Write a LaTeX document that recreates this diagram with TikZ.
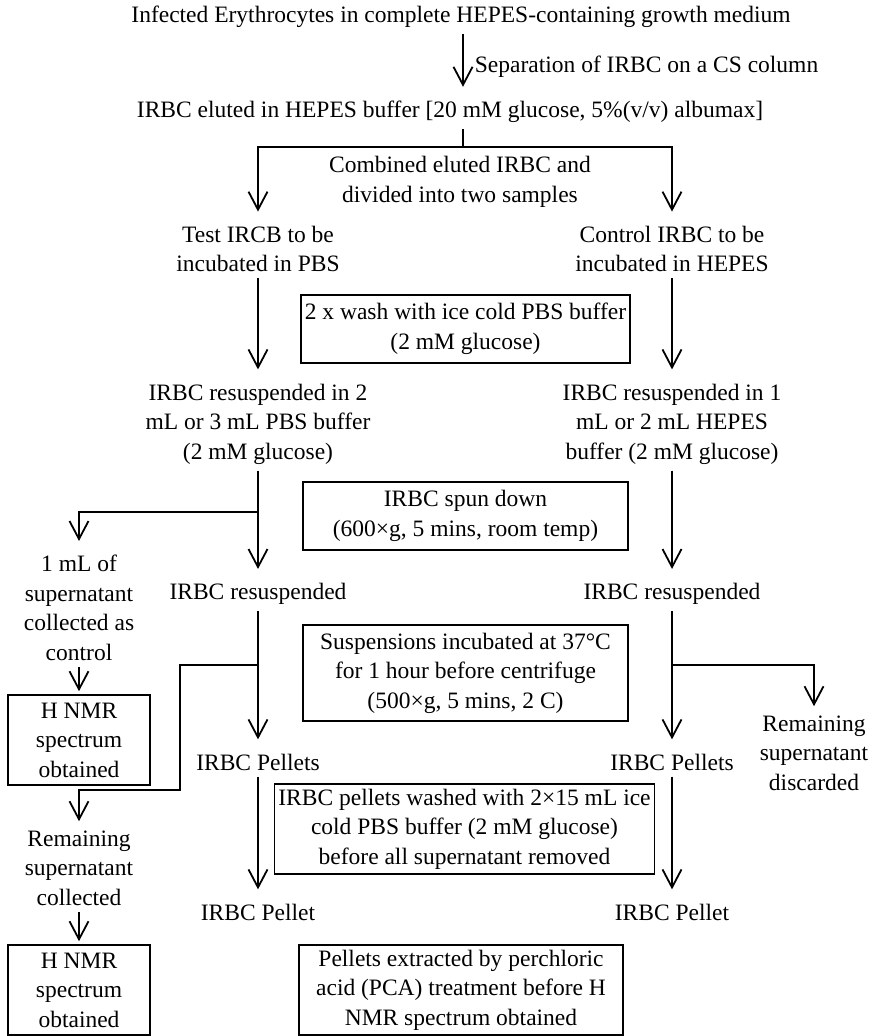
\documentclass[tikz,border=0pt]{standalone}
\usepackage{fontspec}
\setmainfont{Liberation Serif}
\usetikzlibrary{arrows.meta}

\tikzset{
  stage/.style={align=center, inner xsep=2pt, inner ysep=3pt},
  stepbox/.style={draw, line width=0.8pt, align=center, inner sep=2pt},
  link/.style={line width=0.9pt},
  arr/.style={link, shorten >=1.5pt, -{Straight Barb[length=9pt, width=9.5pt, line width=0.9pt]}},
  arrtxt/.style={arr, shorten >=4pt}
}

\begin{document}
\begin{tikzpicture}[x=0.5pt, y=-0.5pt, font=\fontsize{11.75pt}{14.75pt}\selectfont]
    \useasboundingbox (0,0) rectangle (872,1036);

    % Start and column
    \node[stage] (title) at (461,17) {Infected Erythrocytes in complete HEPES-containing growth medium};
    \node[stage] (eluted) at (450,112) {IRBC eluted in HEPES buffer [20 mM glucose, 5\%(v/v) albumax]};
    \coordinate (mid) at (463,147);
    \draw[arrtxt] (title.south -| mid) -- node[right, inner xsep=5.5pt, yshift=-1pt] (seplabel) {Separation of IRBC on a CS column} (eluted.north -| mid);

    % Split into two samples
    \node[stage] (combined) at (460,182) {Combined eluted IRBC and\\divided into two samples};
    \node[stage] (test) at (258,249) {Test IRCB to be\\incubated in PBS};
    \node[stage] (control) at (672,249) {Control IRBC to be\\incubated in HEPES};
    \draw[link] (eluted.south -| mid) -- (mid);
    \draw[arrtxt] (mid) -| (test);
    \draw[arrtxt] (mid) -| (control);

    % Wash step
    \node[stepbox, minimum width=162.5pt, minimum height=34pt] (wash) at (465.5,329) {2 x wash with ice cold PBS buffer\\(2 mM glucose)};
    \node[stage] (resusL) at (258,424) {IRBC resuspended in 2\\mL or 3 mL PBS buffer\\(2 mM glucose)};
    \node[stage] (resusR) at (672,424) {IRBC resuspended in 1\\mL or 2 mL HEPES\\buffer (2 mM glucose)};
    \draw[arrtxt] (test) -- (resusL);
    \draw[arrtxt] (control) -- (resusR);

    % Spin down
    \node[stepbox, minimum width=162.5pt, minimum height=34pt] (spun) at (465.5,516) {IRBC spun down\\(600×g, 5 mins, room temp)};
    \node[stage] (collectA) at (79,608) {1 mL of\\supernatant\\collected as\\control};
    \node[stage] (resus2L) at (258,594) {IRBC resuspended};
    \node[stage] (resus2R) at (672,594) {IRBC resuspended};
    \coordinate (brA) at (258,512);
    \draw[arrtxt] (resusL) -- (resus2L);
    \draw[arrtxt] (brA) -| (collectA);
    \draw[arrtxt] (resusR) -- (resus2R);

    % Incubation
    \node[stepbox, minimum width=162.5pt, minimum height=48pt] (incub) at (465.5,673) {Suspensions incubated at 37°C\\for 1 hour before centrifuge\\(500×g, 5 mins, 2 C)};
    \node[stepbox, minimum width=71pt, minimum height=45pt] (nmrA) at (79,740) {H NMR\\spectrum\\obtained};
    \node[stage] (pelL) at (258,762) {IRBC Pellets};
    \node[stage] (pelR) at (672,762) {IRBC Pellets};
    \node[stage] (discard) at (814,753) {Remaining\\supernatant\\discarded};
    \node[stage] (collectB) at (79,868) {Remaining\\supernatant\\collected};
    \coordinate (brB) at (258,665);
    \coordinate (bendB) at (180,790);
    \coordinate (brC) at (672,665);
    \draw[arr] (collectA) -- (nmrA);
    \draw[arrtxt] (resus2L) -- (pelL);
    \draw[arrtxt] (resus2R) -- (pelR);
    \draw[arr] (brB) -| (bendB) -| (collectB);
    \draw[arr] (brC) -| (discard);

    % Final wash and extraction
    \node[stepbox, minimum width=185.5pt, minimum height=45pt] (washed) at (464.5,829) {IRBC pellets washed with 2×15 mL ice\\cold PBS buffer (2 mM glucose)\\before all supernatant removed};
    \node[stage] (pelletL) at (258,912) {IRBC Pellet};
    \node[stage] (pelletR) at (672,912) {IRBC Pellet};
    \node[stepbox, minimum width=71pt, minimum height=45pt] (nmrB) at (79,990) {H NMR\\spectrum\\obtained};
    \node[stepbox, minimum width=162pt, minimum height=45pt] (pca) at (461,990) {Pellets extracted by perchloric\\acid (PCA) treatment before H\\NMR spectrum obtained};
    \draw[arrtxt] (pelL) -- (pelletL);
    \draw[arrtxt] (pelR) -- (pelletR);
    \draw[arr] (collectB) -- (nmrB);
\end{tikzpicture}
\end{document}
